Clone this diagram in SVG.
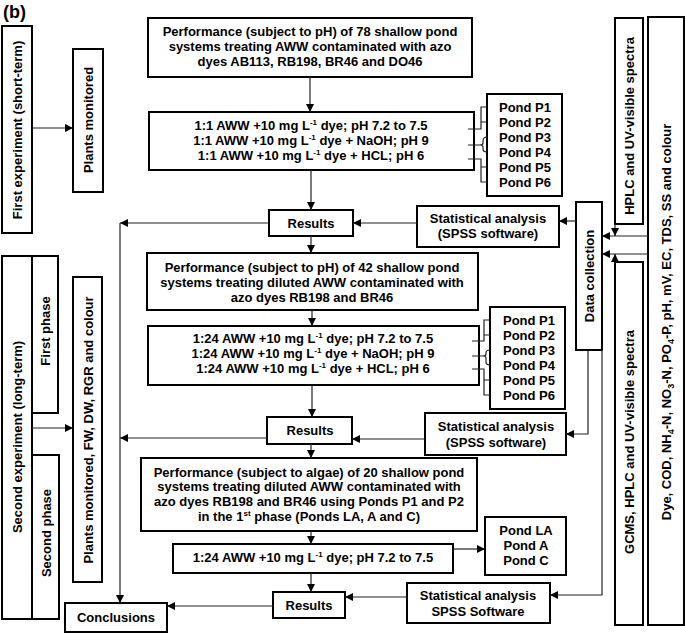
<svg xmlns="http://www.w3.org/2000/svg" width="685" height="633" viewBox="0 0 685 633">
<defs>
<marker id="ah" markerUnits="userSpaceOnUse" markerWidth="9" markerHeight="8" refX="8" refY="4" orient="auto">
<path d="M0,0 L8,4 L0,8 Z" fill="#000"/>
</marker>
<style>
.b{fill:#fff;stroke:#000;stroke-width:2}
.t{font-family:"Liberation Sans",Arial,sans-serif;font-weight:bold;font-size:13px;fill:#000}
.m{text-anchor:middle}
.c{fill:none;stroke:#222;stroke-width:1.2}
.a{fill:none;stroke:#222;stroke-width:1.2;marker-end:url(#ah)}
</style>
</defs>
<rect width="685" height="633" fill="#fff"/>
<text x="3" y="18" class="t" style="font-size:18px">(b)</text>

<g id="first-exp"><rect class="b" x="2" y="26" width="30" height="207"/><text class="t m" transform="translate(17,130) rotate(-90)" dy="4.5">First experiment (short-term)</text></g>
<g id="plants1"><rect class="b" x="73" y="49" width="30" height="143"/><text class="t m" transform="translate(88,120) rotate(-90)" dy="4.5">Plants monitored</text></g>
<g id="second-exp"><rect class="b" x="2" y="256" width="30" height="363"/><text class="t m" transform="translate(17,437) rotate(-90)" dy="4.5">Second experiment (long-term)</text></g>
<g id="first-phase"><rect class="b" x="32" y="256" width="26" height="157"/><text class="t m" transform="translate(45,331) rotate(-90)" dy="4.5">First phase</text></g>
<g id="second-phase"><rect class="b" x="32" y="455" width="27" height="164"/><text class="t m" transform="translate(46,533) rotate(-90)" dy="4.5">Second phase</text></g>
<g id="plants2"><rect class="b" x="73" y="277" width="29" height="305"/><text class="t m" transform="translate(88,430) rotate(-90)" dy="4.5">Plants monitored, FW, DW, RGR and colour</text></g>

<g id="box1"><rect class="b" x="148" y="18" width="324" height="59"/>
<text class="t m" x="310" y="36">Performance (subject to pH) of 78 shallow pond</text>
<text class="t m" x="310" y="51">systems treating AWW contaminated with azo</text>
<text class="t m" x="310" y="66">dyes AB113, RB198, BR46 and DO46</text></g>

<g id="box2"><rect class="b" x="149" y="112" width="325" height="58"/>
<text class="t m" x="311" y="130">1:1 AWW +10 mg L<tspan dy="-5" font-size="8">-1</tspan><tspan dy="5"> dye; pH 7.2 to 7.5</tspan></text>
<text class="t m" x="311" y="145">1:1 AWW +10 mg L<tspan dy="-5" font-size="8">-1</tspan><tspan dy="5"> dye + NaOH; pH 9</tspan></text>
<text class="t m" x="311" y="160">1:1 AWW +10 mg L<tspan dy="-5" font-size="8">-1</tspan><tspan dy="5"> dye + HCL; pH 6</tspan></text></g>

<g id="ponds1"><rect class="b" x="487" y="94" width="75" height="102"/>
<text class="t" x="499" y="112">Pond P1</text><text class="t" x="499" y="127">Pond P2</text><text class="t" x="499" y="142">Pond P3</text><text class="t" x="499" y="157">Pond P4</text><text class="t" x="499" y="172">Pond P5</text><text class="t" x="499" y="187">Pond P6</text></g>

<g id="results1"><rect class="b" x="269" y="210" width="84" height="26"/><text class="t m" x="311" y="228">Results</text></g>
<g id="stats1"><rect class="b" x="417" y="206" width="142" height="41"/><text class="t m" x="488" y="223">Statistical analysis</text><text class="t m" x="488" y="238">(SPSS software)</text></g>

<g id="box3"><rect class="b" x="147" y="253" width="331" height="57"/>
<text class="t m" x="312" y="272">Performance (subject to pH) of 42 shallow pond</text>
<text class="t m" x="312" y="287">systems treating diluted AWW contaminated with</text>
<text class="t m" x="312" y="302">azo dyes RB198 and BR46</text></g>

<g id="box4"><rect class="b" x="148" y="326" width="331" height="59"/>
<text class="t m" x="313" y="343">1:24 AWW +10 mg L<tspan dy="-5" font-size="8">-1</tspan><tspan dy="5"> dye; pH 7.2 to 7.5</tspan></text>
<text class="t m" x="313" y="358">1:24 AWW +10 mg L<tspan dy="-5" font-size="8">-1</tspan><tspan dy="5"> dye + NaOH; pH 9</tspan></text>
<text class="t m" x="313" y="373">1:24 AWW +10 mg L<tspan dy="-5" font-size="8">-1</tspan><tspan dy="5"> dye + HCL; pH 6</tspan></text></g>

<g id="ponds2"><rect class="b" x="490" y="307" width="75" height="102"/>
<text class="t" x="503" y="325">Pond P1</text><text class="t" x="503" y="340">Pond P2</text><text class="t" x="503" y="355">Pond P3</text><text class="t" x="503" y="370">Pond P4</text><text class="t" x="503" y="385">Pond P5</text><text class="t" x="503" y="400">Pond P6</text></g>

<g id="results2"><rect class="b" x="267" y="417" width="85" height="27"/><text class="t m" x="310" y="435">Results</text></g>
<g id="stats2"><rect class="b" x="425" y="413" width="141" height="42"/><text class="t m" x="496" y="431">Statistical analysis</text><text class="t m" x="496" y="447">(SPSS software)</text></g>

<g id="box5"><rect class="b" x="141" y="458" width="336" height="73"/>
<text class="t m" x="309" y="477">Performance (subject to algae) of 20 shallow pond</text>
<text class="t m" x="309" y="491">systems treating diluted AWW contaminated with</text>
<text class="t m" x="309" y="506">azo dyes RB198 and BR46 using Ponds P1 and P2</text>
<text class="t m" x="309" y="521">in the 1<tspan dy="-5" font-size="8">st</tspan><tspan dy="5"> phase (Ponds LA, A and C)</tspan></text></g>

<g id="box6"><rect class="b" x="173" y="544" width="280" height="29"/>
<text class="t m" x="313" y="562">1:24 AWW +10 mg L<tspan dy="-5" font-size="8">-1</tspan><tspan dy="5"> dye; pH 7.2 to 7.5</tspan></text></g>

<g id="ponds3"><rect class="b" x="485" y="517" width="81" height="58"/>
<text class="t m" x="526" y="535">Pond LA</text><text class="t m" x="526" y="550">Pond A</text><text class="t m" x="526" y="565">Pond C</text></g>

<g id="results3"><rect class="b" x="273" y="592" width="72" height="26"/><text class="t m" x="309" y="610">Results</text></g>
<g id="stats3"><rect class="b" x="407" y="583" width="143" height="40"/><text class="t m" x="478" y="600">Statistical analysis</text><text class="t m" x="478" y="616">SPSS Software</text></g>
<g id="conclusions"><rect class="b" x="65" y="603" width="102" height="29"/><text class="t m" x="116" y="622">Conclusions</text></g>

<g id="data-collection"><rect class="b" x="576" y="202" width="26" height="148"/><text class="t m" transform="translate(589,276) rotate(-90)" dy="4.5">Data collection</text></g>
<g id="hplc"><rect class="b" x="615" y="18" width="28" height="206"/><text class="t m" transform="translate(629,126) rotate(-90)" dy="4.5">HPLC and UV-visible spectra</text></g>
<g id="gcms"><rect class="b" x="615" y="262" width="28" height="363"/><text class="t m" transform="translate(629,442) rotate(-90)" dy="4.5">GCMS, HPLC and UV-visible spectra</text></g>
<g id="params"><rect class="b" x="648" y="17" width="36" height="608"/><text class="t m" transform="translate(666,322) rotate(-90)" dy="4.5">Dye, COD, NH<tspan dy="3" font-size="9">4</tspan><tspan dy="-3">-N, NO</tspan><tspan dy="3" font-size="9">3</tspan><tspan dy="-3">-N, PO</tspan><tspan dy="3" font-size="9">4</tspan><tspan dy="-3">-P, pH, mV, EC, TDS, SS and colour</tspan></text></g>

<g id="connectors">
<path class="a" d="M32,128 H73"/>
<path class="a" d="M32,428 H73"/>
<path class="a" d="M310,77 V112"/>
<path class="a" d="M311,170 V210"/>
<path class="a" d="M311,236 V253"/>
<path class="a" d="M312,310 V326"/>
<path class="a" d="M312,385 V417"/>
<path class="a" d="M311,444 V458"/>
<path class="a" d="M311,531 V544"/>
<path class="a" d="M311,573 V592"/>
<path class="a" d="M453,549 H485"/>
<path class="a" d="M273,606 H167"/>
<path class="a" d="M269,223 H120"/>
<path class="a" d="M120,223 V603"/>
<path class="a" d="M267,438 H120"/>
<path class="a" d="M417,223 H353"/>
<path class="a" d="M425,439 H352"/>
<path class="a" d="M407,597 H345"/>
<path class="a" d="M576,221 H559"/>
<path class="a" d="M588,350 V434 H566"/>
<path class="a" d="M602,350 V595 H550"/>
<path class="a" d="M648,236 H602"/>
<path class="a" d="M648,254 H602"/>
<path class="a" d="M615,224 V236"/>
<path class="a" d="M615,262 V254"/>
<path class="c" d="M468,129 H481 V107 H487 M481,122 H487"/>
<path class="c" d="M468,145 H480 M487,137 Q483,137 483,141 V143 Q483,145 480,145 Q483,145 483,147 V149 Q483,152 487,152"/>
<path class="c" d="M468,159 H481 V182 H487 M481,167 H487"/>
<path class="c" d="M472,341 H484 V320 H490 M484,335 H490"/>
<path class="c" d="M472,356 H483 M490,350 Q486,350 486,353 V354 Q486,356 483,356 Q486,356 486,358 V362 Q486,365 490,365"/>
<path class="c" d="M472,369 H484 V395 H490 M484,380 H490"/>
</g>
</svg>
